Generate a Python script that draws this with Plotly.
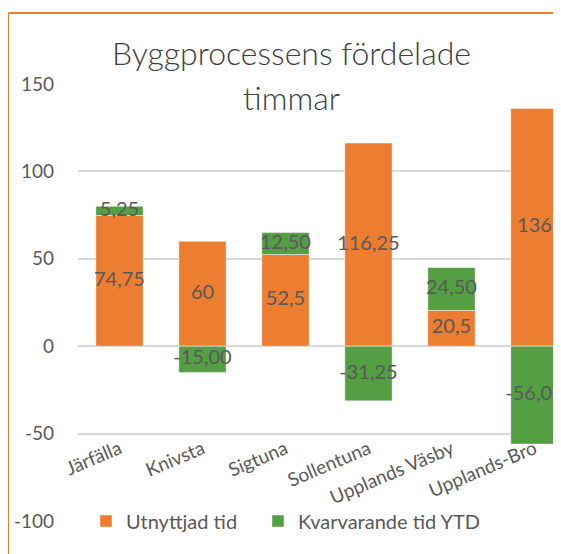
import plotly.graph_objects as go

categories = ["Järfälla", "Knivsta", "Sigtuna", "Sollentuna", "Upplands Väsby", "Upplands-Bro"]
utnyttjad = [74.75, 60, 52.5, 116.25, 20.5, 136]
kvarvarande = [5.25, -15.00, 12.50, -31.25, 24.50, -56.00]
y_ticks = [-100, -50, 0, 50, 100, 150]

ORANGE = "#ED7D31"
GREEN = "#549E43"
GREY = "#595959"

lab_u = [f"{v:g}".replace(".", ",") for v in utnyttjad]
lab_k = [f"{v:.2f}".replace(".", ",") for v in kvarvarande]

pos_u, pos_k = [], []
for u, k in zip(utnyttjad, kvarvarande):
    pos_u.append(u / 2)
    pos_k.append(u + k / 2 if k >= 0 else k / 2)

# page body has an 8px margin, so the figure is laid out 8px smaller
W, H = 553, 546
L, T, B = 70, 76, 33
PW, PH = W - L, H - T - B

fig = go.Figure()
fig.add_trace(go.Bar(x=categories, y=utnyttjad, name="Utnyttjad tid",
                     marker=dict(color=ORANGE, line=dict(color="rgba(255,255,255,0.45)", width=1)),
                     width=0.57, legend="legend"))
fig.add_trace(go.Bar(x=categories, y=kvarvarande, name="Kvarvarande tid YTD",
                     marker=dict(color=GREEN, line=dict(color="rgba(255,255,255,0.45)", width=1)),
                     width=0.57, legend="legend2"))
fig.add_trace(go.Scatter(x=categories + categories, y=pos_u + pos_k, text=lab_u + lab_k,
                         mode="text", textfont=dict(family="Lato", size=20, color=GREY),
                         showlegend=False, hoverinfo="skip", cliponaxis=False))

leg_common = dict(orientation="h", xanchor="left", y=0.0, yanchor="middle",
                  font=dict(family="Lato", size=20, color=GREY), bgcolor="rgba(0,0,0,0)",
                  itemwidth=30)

fig.update_layout(
    width=W, height=H,
    barmode="relative",
    plot_bgcolor="white", paper_bgcolor="white",
    margin=dict(l=L, r=0, t=T, b=B, autoexpand=False),
    font=dict(family="Lato", color=GREY),
    showlegend=True,
    legend=dict(x=(78 - L) / PW, **leg_common),
    legend2=dict(x=(250 - L) / PW, **leg_common),
    xaxis=dict(range=[-0.5, 5.32], anchor="free", position=0.2, showline=False,
               showgrid=False, tickangle=-23, tickfont=dict(family="Lato", size=19, color=GREY),
               ticks=""),
    yaxis=dict(range=[-100, 150], tickvals=y_ticks, ticktext=[str(v) for v in y_ticks],
               showgrid=True, gridcolor="#D9D9D9",
               gridwidth=1.5, zeroline=True, zerolinecolor="#D9D9D9", zerolinewidth=1.5,
               tickfont=dict(family="Lato", size=19, color=GREY), ticks="",
               ticklabelstandoff=23),
)

title_x = (283 - L) / PW
fig.add_annotation(text="Byggprocessens fördelade", xref="paper", yref="paper",
                   x=title_x, y=(H - B - 44) / PH, xanchor="center", yanchor="middle", showarrow=False,
                   font=dict(family="Lato", size=32, color="#404040", weight=300))
fig.add_annotation(text="timmar", xref="paper", yref="paper",
                   x=title_x, y=(H - B - 89) / PH, xanchor="center", yanchor="middle", showarrow=False,
                   font=dict(family="Lato", size=32, color="#404040", weight=300))

fig.add_shape(type="rect", xref="paper", yref="paper",
              x0=(0 - L) / PW, x1=1.3, y0=-0.3, y1=(H - B - 5) / PH,
              line=dict(color=ORANGE, width=2), fillcolor="rgba(0,0,0,0)", layer="above")

fig.write_html("out.html")
